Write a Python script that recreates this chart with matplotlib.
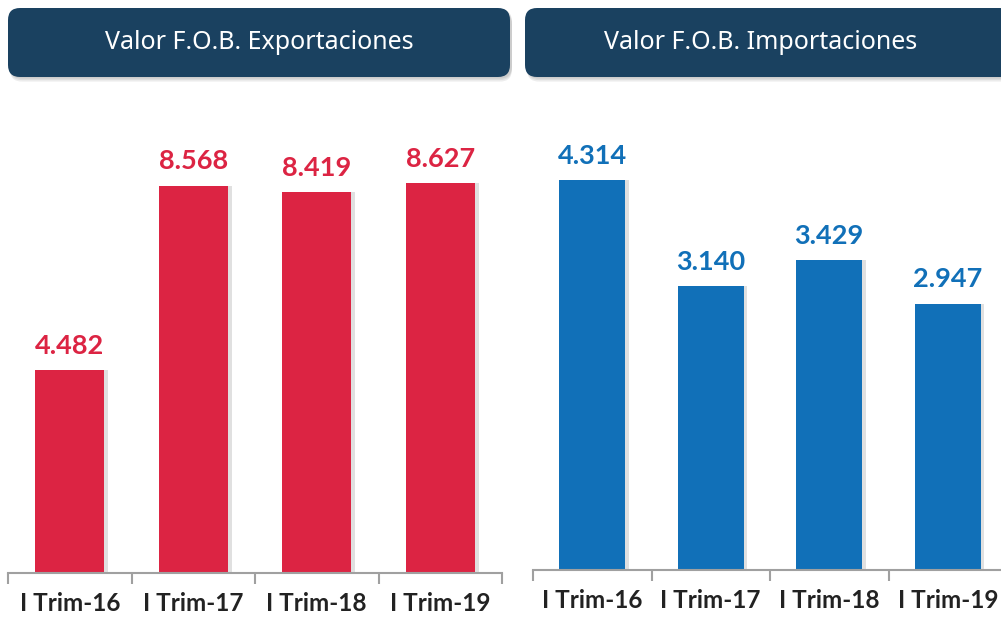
import matplotlib
matplotlib.use("Agg")
import matplotlib.pyplot as plt
from matplotlib.patches import FancyBboxPatch
import numpy as np

plt.rcParams['font.family'] = ['Lato', 'DejaVu Sans']

# data
categories = ['I Trim-16', 'I Trim-17', 'I Trim-18', 'I Trim-19']
exportaciones = [4.482, 8.568, 8.419, 8.627]
importaciones = [4.314, 3.140, 3.429, 2.947]
titles = ['Valor F.O.B. Exportaciones', 'Valor F.O.B. Importaciones']

RED = '#DC2443'
BLUE = '#1170B8'
NAVY = '#1A4160'

W, H = 1001, 617
fig = plt.figure(figsize=(W / 100, H / 100), dpi=100)
fig.patch.set_facecolor('white')


def px(x0, y0, x1, y1):
    # pixel box (top-left origin) -> figure fraction rect
    return [x0 / W, 1 - y1 / H, (x1 - x0) / W, (y1 - y0) / H]


def header(x0, x1, xc, text):
    l, b, w, h = px(x0, 8, x1, 77)
    # soft shadow
    for i, a in enumerate([0.10, 0.10, 0.12]):
        d = (3 - i) * 0.0025
        sh = FancyBboxPatch((l + 0.002, b - d), w, h,
                            boxstyle="round,pad=0,rounding_size=0.012",
                            transform=fig.transFigure, facecolor='#555555',
                            edgecolor='none', alpha=a, mutation_aspect=W / H)
        fig.patches.append(sh)
    box = FancyBboxPatch((l, b), w, h,
                         boxstyle="round,pad=0,rounding_size=0.012",
                         transform=fig.transFigure, facecolor=NAVY,
                         edgecolor='none', mutation_aspect=W / H)
    fig.patches.append(box)
    fig.text(xc / W, b + h / 2, text,
             color='white', fontsize=18, ha='center', va='center',
             family=['Noto Sans', 'DejaVu Sans'])


header(8, 510, 259, titles[0])
header(525, 1012, 761, titles[1])


def panel(rect, values, color, ymax):
    ax = fig.add_axes(rect)
    x = np.arange(len(values))
    # bar shadow
    ax.bar(x + 0.03, values, width=0.56, color='#999999', alpha=0.3, zorder=1)
    ax.bar(x, values, width=0.56, color=color, zorder=2)
    for xi, v in zip(x, values):
        ax.annotate(f'{v:.3f}', (xi, v), xytext=(0, 9), textcoords='offset points',
                    ha='center', va='bottom', color=color, fontsize=19.5,
                    fontweight='bold')
    ax.set_xlim(-0.5, len(values) - 0.5)
    ax.set_ylim(0, ymax)
    for s in ['top', 'right', 'left']:
        ax.spines[s].set_visible(False)
    ax.spines['bottom'].set_color('#A0A0A0')
    ax.spines['bottom'].set_linewidth(1.5)
    ax.set_yticks([])
    ax.set_xticks(x)
    ax.set_xticklabels(categories, fontsize=17.5, fontweight='bold', color='#222222')
    ax.tick_params(axis='x', which='major', length=0, pad=14)
    ax.set_xticks(np.arange(len(values) + 1) - 0.5, minor=True)
    ax.tick_params(axis='x', which='minor', length=8, width=1.5, color='#A0A0A0')
    ax.patch.set_alpha(0)
    return ax


panel(px(8, 121, 502, 573), exportaciones, RED, 10)
panel(px(533, 118.5, 1007, 570), importaciones, BLUE, 5)

fig.savefig('out.png', dpi=100)
